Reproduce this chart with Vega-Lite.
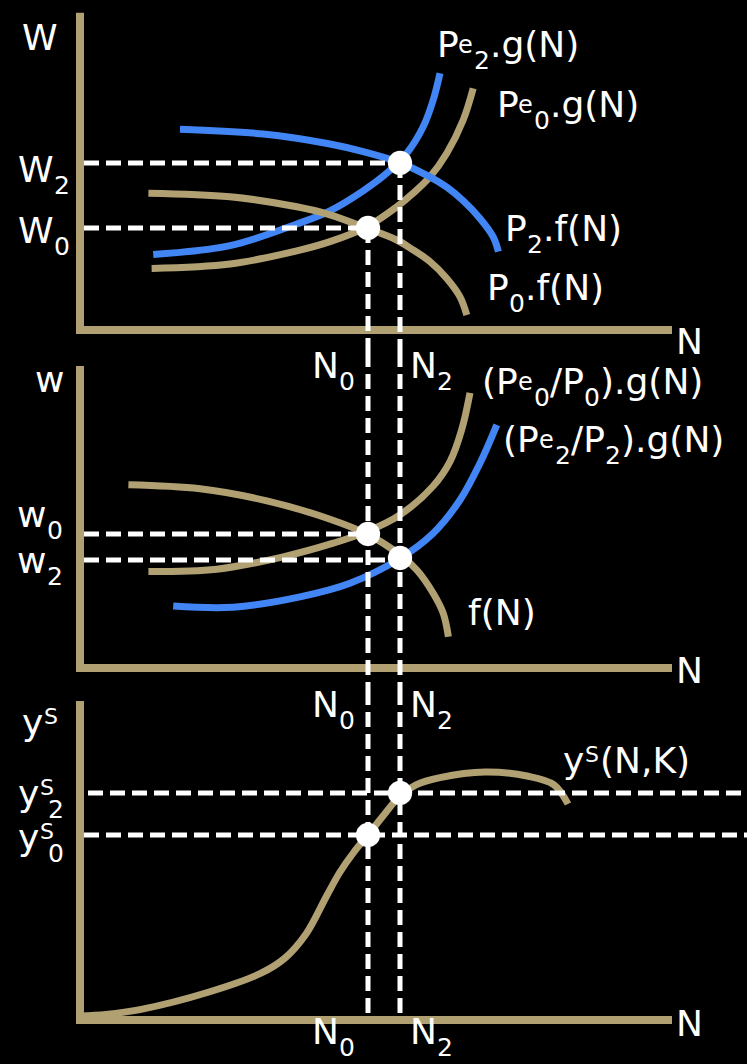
{
  "$schema": "https://vega.github.io/schema/vega-lite/v6.json",
  "background": "black",
  "padding": 0,
  "spacing": 0,
  "bounds": "flush",
  "config": {"view": {"stroke": null}},
  "datasets": {
    "axes": [
      {"panel": 1, "N": 0, "V": 0, "N2": 0, "V2": 7.83},
      {"panel": 1, "N": 0, "V": 0, "N2": 14.7, "V2": 0},
      {"panel": 2, "N": 0, "V": 0, "N2": 0, "V2": 7.45},
      {"panel": 2, "N": 0, "V": 0, "N2": 14.7, "V2": 0},
      {"panel": 3, "N": 0, "V": 0, "N2": 0, "V2": 7.875},
      {"panel": 3, "N": 0, "V": 0, "N2": 14.7, "V2": 0}
    ],
    "guides": [
      {"panel": 1, "N": 0.1, "V": 4.175, "N2": 8, "V2": 4.175},
      {"panel": 1, "N": 0.1, "V": 2.55, "N2": 7.2, "V2": 2.55},
      {"panel": 1, "N": 8, "V": 4.175, "N2": 8, "V2": -0.55},
      {"panel": 1, "N": 7.2, "V": 2.55, "N2": 7.2, "V2": -0.55},
      {"panel": 2, "N": 0.1, "V": 3.35, "N2": 7.2, "V2": 3.35},
      {"panel": 2, "N": 0.1, "V": 2.7, "N2": 8, "V2": 2.7},
      {"panel": 2, "N": 7.2, "V": 7.9, "N2": 7.2, "V2": -0.55},
      {"panel": 2, "N": 8, "V": 7.9, "N2": 8, "V2": -0.55},
      {"panel": 3, "N": 0.2, "V": 5.675, "N2": 16.675, "V2": 5.675},
      {"panel": 3, "N": 0.1, "V": 4.625, "N2": 16.675, "V2": 4.625},
      {"panel": 3, "N": 7.2, "V": 8.25, "N2": 7.2, "V2": 0},
      {"panel": 3, "N": 8, "V": 8.25, "N2": 8, "V2": 0}
    ],
    "points": [
      {"panel": 1, "N": 8, "V": 4.175},
      {"panel": 1, "N": 7.2, "V": 2.55},
      {"panel": 2, "N": 7.2, "V": 3.35},
      {"panel": 2, "N": 8, "V": 2.75},
      {"panel": 3, "N": 7.2, "V": 4.625},
      {"panel": 3, "N": 8, "V": 5.675}
    ],
    "curves": [
      {"panel": 1, "curve": "Pe2g", "state": "new", "N": 1.83, "V": 1.89},
      {"panel": 1, "curve": "Pe2g", "state": "new", "N": 3.75, "V": 2.11},
      {"panel": 1, "curve": "Pe2g", "state": "new", "N": 5.42, "V": 2.65},
      {"panel": 1, "curve": "Pe2g", "state": "new", "N": 6.25, "V": 2.98},
      {"panel": 1, "curve": "Pe2g", "state": "new", "N": 7.08, "V": 3.48},
      {"panel": 1, "curve": "Pe2g", "state": "new", "N": 7.67, "V": 3.92},
      {"panel": 1, "curve": "Pe2g", "state": "new", "N": 8.17, "V": 4.42},
      {"panel": 1, "curve": "Pe2g", "state": "new", "N": 8.58, "V": 5.08},
      {"panel": 1, "curve": "Pe2g", "state": "new", "N": 8.83, "V": 5.75},
      {"panel": 1, "curve": "Pe2g", "state": "new", "N": 9.0, "V": 6.42},
      {"panel": 1, "curve": "Pe0g", "state": "initial", "N": 1.79, "V": 1.54},
      {"panel": 1, "curve": "Pe0g", "state": "initial", "N": 3.75, "V": 1.65},
      {"panel": 1, "curve": "Pe0g", "state": "initial", "N": 5.42, "V": 1.98},
      {"panel": 1, "curve": "Pe0g", "state": "initial", "N": 6.25, "V": 2.21},
      {"panel": 1, "curve": "Pe0g", "state": "initial", "N": 7.17, "V": 2.58},
      {"panel": 1, "curve": "Pe0g", "state": "initial", "N": 7.92, "V": 3.08},
      {"panel": 1, "curve": "Pe0g", "state": "initial", "N": 8.33, "V": 3.42},
      {"panel": 1, "curve": "Pe0g", "state": "initial", "N": 8.75, "V": 3.83},
      {"panel": 1, "curve": "Pe0g", "state": "initial", "N": 9.17, "V": 4.42},
      {"panel": 1, "curve": "Pe0g", "state": "initial", "N": 9.58, "V": 5.25},
      {"panel": 1, "curve": "Pe0g", "state": "initial", "N": 9.83, "V": 6.04},
      {"panel": 1, "curve": "P2f", "state": "new", "N": 2.5, "V": 5.02},
      {"panel": 1, "curve": "P2f", "state": "new", "N": 4.58, "V": 4.9},
      {"panel": 1, "curve": "P2f", "state": "new", "N": 6.25, "V": 4.65},
      {"panel": 1, "curve": "P2f", "state": "new", "N": 7.08, "V": 4.46},
      {"panel": 1, "curve": "P2f", "state": "new", "N": 7.92, "V": 4.21},
      {"panel": 1, "curve": "P2f", "state": "new", "N": 8.75, "V": 3.83},
      {"panel": 1, "curve": "P2f", "state": "new", "N": 9.17, "V": 3.57},
      {"panel": 1, "curve": "P2f", "state": "new", "N": 9.58, "V": 3.23},
      {"panel": 1, "curve": "P2f", "state": "new", "N": 10.0, "V": 2.79},
      {"panel": 1, "curve": "P2f", "state": "new", "N": 10.33, "V": 2.33},
      {"panel": 1, "curve": "P2f", "state": "new", "N": 10.46, "V": 1.96},
      {"panel": 1, "curve": "P0f", "state": "initial", "N": 1.71, "V": 3.42},
      {"panel": 1, "curve": "P0f", "state": "initial", "N": 3.75, "V": 3.33},
      {"panel": 1, "curve": "P0f", "state": "initial", "N": 5.42, "V": 3.08},
      {"panel": 1, "curve": "P0f", "state": "initial", "N": 6.25, "V": 2.88},
      {"panel": 1, "curve": "P0f", "state": "initial", "N": 7.08, "V": 2.58},
      {"panel": 1, "curve": "P0f", "state": "initial", "N": 7.92, "V": 2.25},
      {"panel": 1, "curve": "P0f", "state": "initial", "N": 8.33, "V": 2.0},
      {"panel": 1, "curve": "P0f", "state": "initial", "N": 8.75, "V": 1.71},
      {"panel": 1, "curve": "P0f", "state": "initial", "N": 9.17, "V": 1.29},
      {"panel": 1, "curve": "P0f", "state": "initial", "N": 9.5, "V": 0.83},
      {"panel": 1, "curve": "P0f", "state": "initial", "N": 9.67, "V": 0.375},
      {"panel": 2, "curve": "g0", "state": "initial", "N": 1.71, "V": 2.41},
      {"panel": 2, "curve": "g0", "state": "initial", "N": 3.42, "V": 2.47},
      {"panel": 2, "curve": "g0", "state": "initial", "N": 5.08, "V": 2.78},
      {"panel": 2, "curve": "g0", "state": "initial", "N": 6.33, "V": 3.12},
      {"panel": 2, "curve": "g0", "state": "initial", "N": 7.17, "V": 3.41},
      {"panel": 2, "curve": "g0", "state": "initial", "N": 8.0, "V": 3.83},
      {"panel": 2, "curve": "g0", "state": "initial", "N": 8.83, "V": 4.55},
      {"panel": 2, "curve": "g0", "state": "initial", "N": 9.25, "V": 5.16},
      {"panel": 2, "curve": "g0", "state": "initial", "N": 9.54, "V": 5.95},
      {"panel": 2, "curve": "g0", "state": "initial", "N": 9.75, "V": 6.88},
      {"panel": 2, "curve": "g2", "state": "new", "N": 2.33, "V": 1.55},
      {"panel": 2, "curve": "g2", "state": "new", "N": 3.83, "V": 1.52},
      {"panel": 2, "curve": "g2", "state": "new", "N": 5.5, "V": 1.78},
      {"panel": 2, "curve": "g2", "state": "new", "N": 6.75, "V": 2.12},
      {"panel": 2, "curve": "g2", "state": "new", "N": 8.0, "V": 2.74},
      {"panel": 2, "curve": "g2", "state": "new", "N": 8.83, "V": 3.37},
      {"panel": 2, "curve": "g2", "state": "new", "N": 9.5, "V": 4.2},
      {"panel": 2, "curve": "g2", "state": "new", "N": 10.0, "V": 5.12},
      {"panel": 2, "curve": "g2", "state": "new", "N": 10.42, "V": 6.08},
      {"panel": 2, "curve": "f", "state": "initial", "N": 1.21, "V": 4.58},
      {"panel": 2, "curve": "f", "state": "initial", "N": 3.0, "V": 4.48},
      {"panel": 2, "curve": "f", "state": "initial", "N": 4.67, "V": 4.18},
      {"panel": 2, "curve": "f", "state": "initial", "N": 5.92, "V": 3.83},
      {"panel": 2, "curve": "f", "state": "initial", "N": 7.17, "V": 3.35},
      {"panel": 2, "curve": "f", "state": "initial", "N": 8.0, "V": 2.83},
      {"panel": 2, "curve": "f", "state": "initial", "N": 8.42, "V": 2.45},
      {"panel": 2, "curve": "f", "state": "initial", "N": 8.83, "V": 1.87},
      {"panel": 2, "curve": "f", "state": "initial", "N": 9.08, "V": 1.37},
      {"panel": 2, "curve": "f", "state": "initial", "N": 9.21, "V": 0.78},
      {"panel": 3, "curve": "yS", "state": "initial", "N": 0, "V": 0.1},
      {"panel": 3, "curve": "yS", "state": "initial", "N": 0.65, "V": 0.14},
      {"panel": 3, "curve": "yS", "state": "initial", "N": 1.5, "V": 0.26},
      {"panel": 3, "curve": "yS", "state": "initial", "N": 3.225, "V": 0.7},
      {"panel": 3, "curve": "yS", "state": "initial", "N": 4.525, "V": 1.17},
      {"panel": 3, "curve": "yS", "state": "initial", "N": 5.125, "V": 1.55},
      {"panel": 3, "curve": "yS", "state": "initial", "N": 5.65, "V": 2.15},
      {"panel": 3, "curve": "yS", "state": "initial", "N": 6.175, "V": 3.12},
      {"panel": 3, "curve": "yS", "state": "initial", "N": 6.5, "V": 3.7},
      {"panel": 3, "curve": "yS", "state": "initial", "N": 6.85, "V": 4.2},
      {"panel": 3, "curve": "yS", "state": "initial", "N": 7.2, "V": 4.625},
      {"panel": 3, "curve": "yS", "state": "initial", "N": 7.55, "V": 5.07},
      {"panel": 3, "curve": "yS", "state": "initial", "N": 8.0, "V": 5.6},
      {"panel": 3, "curve": "yS", "state": "initial", "N": 8.4, "V": 5.88},
      {"panel": 3, "curve": "yS", "state": "initial", "N": 9.0, "V": 6.06},
      {"panel": 3, "curve": "yS", "state": "initial", "N": 10.125, "V": 6.2},
      {"panel": 3, "curve": "yS", "state": "initial", "N": 11.175, "V": 6.1},
      {"panel": 3, "curve": "yS", "state": "initial", "N": 11.85, "V": 5.88},
      {"panel": 3, "curve": "yS", "state": "initial", "N": 12.2, "V": 5.4}
    ],
    "labels": [
      {"panel": 1, "label": "W", "part": "main", "text": "W", "N": -1.45, "V": 7.0},
      {"panel": 1, "label": "W2", "part": "main", "text": "W", "N": -1.55, "V": 3.7},
      {"panel": 1, "label": "W2", "part": "sub", "text": "2", "N": -0.65, "V": 3.7},
      {"panel": 1, "label": "W0", "part": "main", "text": "W", "N": -1.55, "V": 2.175},
      {"panel": 1, "label": "W0", "part": "sub", "text": "0", "N": -0.65, "V": 2.175},
      {"panel": 1, "label": "Pe2.g(N)", "part": "main", "text": "P", "N": 8.925, "V": 6.825},
      {"panel": 1, "label": "Pe2.g(N)", "part": "sup", "text": "e", "N": 9.45, "V": 6.825},
      {"panel": 1, "label": "Pe2.g(N)", "part": "sub", "text": "2", "N": 9.85, "V": 6.825},
      {"panel": 1, "label": "Pe2.g(N)", "part": "main", "text": ".g(N)", "N": 10.25, "V": 6.825},
      {"panel": 1, "label": "Pe0.g(N)", "part": "main", "text": "P", "N": 10.425, "V": 5.325},
      {"panel": 1, "label": "Pe0.g(N)", "part": "sup", "text": "e", "N": 10.95, "V": 5.325},
      {"panel": 1, "label": "Pe0.g(N)", "part": "sub", "text": "0", "N": 11.35, "V": 5.325},
      {"panel": 1, "label": "Pe0.g(N)", "part": "main", "text": ".g(N)", "N": 11.75, "V": 5.325},
      {"panel": 1, "label": "P2.f(N)", "part": "main", "text": "P", "N": 10.625, "V": 2.225},
      {"panel": 1, "label": "P2.f(N)", "part": "sub", "text": "2", "N": 11.175, "V": 2.225},
      {"panel": 1, "label": "P2.f(N)", "part": "main", "text": ".f(N)", "N": 11.575, "V": 2.225},
      {"panel": 1, "label": "P0.f(N)", "part": "main", "text": "P", "N": 10.175, "V": 0.75},
      {"panel": 1, "label": "P0.f(N)", "part": "sub", "text": "0", "N": 10.725, "V": 0.75},
      {"panel": 1, "label": "P0.f(N)", "part": "main", "text": ".f(N)", "N": 11.125, "V": 0.75},
      {"panel": 1, "label": "N", "part": "main", "text": "N", "N": 14.9, "V": -0.6},
      {"panel": 1, "label": "N0", "part": "main", "text": "N", "N": 5.8, "V": -1.2},
      {"panel": 1, "label": "N0", "part": "sub", "text": "0", "N": 6.475, "V": -1.2},
      {"panel": 1, "label": "N2", "part": "main", "text": "N", "N": 8.25, "V": -1.2},
      {"panel": 1, "label": "N2", "part": "sub", "text": "2", "N": 8.925, "V": -1.2},
      {"panel": 2, "label": "w", "part": "main", "text": "w", "N": -1.125, "V": 6.9},
      {"panel": 2, "label": "w0", "part": "main", "text": "w", "N": -1.575, "V": 3.525},
      {"panel": 2, "label": "w0", "part": "sub", "text": "0", "N": -0.825, "V": 3.525},
      {"panel": 2, "label": "w2", "part": "main", "text": "w", "N": -1.575, "V": 2.375},
      {"panel": 2, "label": "w2", "part": "sub", "text": "2", "N": -0.825, "V": 2.375},
      {"panel": 2, "label": "(Pe0/P0).g(N)", "part": "main", "text": "(P", "N": 10.05, "V": 6.85},
      {"panel": 2, "label": "(Pe0/P0).g(N)", "part": "sup", "text": "e", "N": 10.95, "V": 6.85},
      {"panel": 2, "label": "(Pe0/P0).g(N)", "part": "sub", "text": "0", "N": 11.35, "V": 6.85},
      {"panel": 2, "label": "(Pe0/P0).g(N)", "part": "main", "text": "/P", "N": 11.75, "V": 6.85},
      {"panel": 2, "label": "(Pe0/P0).g(N)", "part": "sub", "text": "0", "N": 12.6, "V": 6.85},
      {"panel": 2, "label": "(Pe0/P0).g(N)", "part": "main", "text": ").g(N)", "N": 13.0, "V": 6.85},
      {"panel": 2, "label": "(Pe2/P2).g(N)", "part": "main", "text": "(P", "N": 10.575, "V": 5.4},
      {"panel": 2, "label": "(Pe2/P2).g(N)", "part": "sup", "text": "e", "N": 11.475, "V": 5.4},
      {"panel": 2, "label": "(Pe2/P2).g(N)", "part": "sub", "text": "2", "N": 11.875, "V": 5.4},
      {"panel": 2, "label": "(Pe2/P2).g(N)", "part": "main", "text": "/P", "N": 12.275, "V": 5.4},
      {"panel": 2, "label": "(Pe2/P2).g(N)", "part": "sub", "text": "2", "N": 13.125, "V": 5.4},
      {"panel": 2, "label": "(Pe2/P2).g(N)", "part": "main", "text": ").g(N)", "N": 13.525, "V": 5.4},
      {"panel": 2, "label": "f(N)", "part": "main", "text": "f(N)", "N": 9.7, "V": 1.075},
      {"panel": 2, "label": "N", "part": "main", "text": "N", "N": 14.9, "V": -0.375},
      {"panel": 2, "label": "N0", "part": "main", "text": "N", "N": 5.8, "V": -1.225},
      {"panel": 2, "label": "N0", "part": "sub", "text": "0", "N": 6.475, "V": -1.225},
      {"panel": 2, "label": "N2", "part": "main", "text": "N", "N": 8.25, "V": -1.225},
      {"panel": 2, "label": "N2", "part": "sub", "text": "2", "N": 8.925, "V": -1.225},
      {"panel": 3, "label": "yS", "part": "main", "text": "y", "N": -1.45, "V": 7.125},
      {"panel": 3, "label": "yS", "part": "sup", "text": "S", "N": -0.9, "V": 7.125},
      {"panel": 3, "label": "yS2", "part": "main", "text": "y", "N": -1.55, "V": 5.35},
      {"panel": 3, "label": "yS2", "part": "sup", "text": "S", "N": -1.0, "V": 5.35},
      {"panel": 3, "label": "yS2", "part": "sub", "text": "2", "N": -0.8, "V": 5.35},
      {"panel": 3, "label": "yS0", "part": "main", "text": "y", "N": -1.55, "V": 4.25},
      {"panel": 3, "label": "yS0", "part": "sup", "text": "S", "N": -1.0, "V": 4.25},
      {"panel": 3, "label": "yS0", "part": "sub", "text": "0", "N": -0.8, "V": 4.25},
      {"panel": 3, "label": "yS(N,K)", "part": "main", "text": "y", "N": 12.075, "V": 6.175},
      {"panel": 3, "label": "yS(N,K)", "part": "sup", "text": "S", "N": 12.625, "V": 6.175},
      {"panel": 3, "label": "yS(N,K)", "part": "main", "text": "(N,K)", "N": 13.0, "V": 6.175},
      {"panel": 3, "label": "N", "part": "main", "text": "N", "N": 14.9, "V": -0.4},
      {"panel": 3, "label": "N0", "part": "main", "text": "N", "N": 5.8, "V": -0.6},
      {"panel": 3, "label": "N0", "part": "sub", "text": "0", "N": 6.475, "V": -0.6},
      {"panel": 3, "label": "N2", "part": "main", "text": "N", "N": 8.25, "V": -0.6},
      {"panel": 3, "label": "N2", "part": "sub", "text": "2", "N": 8.925, "V": -0.6}
    ]
  },
  "vconcat": [
    {
      "width": 747, "height": 352,
      "encoding": {
        "x": {"field": "N", "type": "quantitative", "scale": {"domain": [-2, 16.675], "nice": false, "zero": false}, "axis": null},
        "y": {"field": "V", "type": "quantitative", "scale": {"domain": [-0.55, 8.25], "nice": false, "zero": false}, "axis": null}
      },
      "layer": [
        {"data": {"name": "axes"}, "transform": [{"filter": "datum.panel == 1"}], "mark": {"type": "rule", "color": "#B0A072", "strokeWidth": 8, "strokeCap": "square"}, "encoding": {"x2": {"field": "N2"}, "y2": {"field": "V2"}}},
        {"data": {"name": "curves"}, "transform": [{"filter": "datum.panel == 1"}], "mark": {"type": "line", "strokeWidth": 7, "interpolate": "catmull-rom"}, "encoding": {"detail": {"field": "curve"}, "color": {"field": "state", "type": "nominal", "scale": {"domain": ["initial", "new"], "range": ["#B0A072", "#4285F4"]}, "legend": null}}},
        {"data": {"name": "guides"}, "transform": [{"filter": "datum.panel == 1"}], "mark": {"type": "rule", "color": "white", "strokeWidth": 5, "strokeDash": [15, 7]}, "encoding": {"x2": {"field": "N2"}, "y2": {"field": "V2"}}},
        {"data": {"name": "points"}, "transform": [{"filter": "datum.panel == 1"}], "mark": {"type": "point", "filled": true, "color": "white", "opacity": 1, "size": 590}},
        {"data": {"name": "labels"}, "transform": [{"filter": "datum.panel == 1 && datum.part == 'main'"}], "mark": {"type": "text", "align": "left", "baseline": "alphabetic", "font": "DejaVu Sans", "fontSize": 36, "color": "white"}, "encoding": {"text": {"field": "text"}}},
        {"data": {"name": "labels"}, "transform": [{"filter": "datum.panel == 1 && datum.part == 'sub'"}], "mark": {"type": "text", "align": "left", "baseline": "alphabetic", "font": "DejaVu Sans", "fontSize": 25, "dy": 12, "color": "white"}, "encoding": {"text": {"field": "text"}}},
        {"data": {"name": "labels"}, "transform": [{"filter": "datum.panel == 1 && datum.part == 'sup'"}], "mark": {"type": "text", "align": "left", "baseline": "alphabetic", "font": "DejaVu Sans", "fontSize": 24, "dy": -4, "color": "white"}, "encoding": {"text": {"field": "text"}}}
      ]
    },
    {
      "width": 747, "height": 338,
      "encoding": {
        "x": {"field": "N", "type": "quantitative", "scale": {"domain": [-2, 16.675], "nice": false, "zero": false}, "axis": null},
        "y": {"field": "V", "type": "quantitative", "scale": {"domain": [-0.55, 7.9], "nice": false, "zero": false}, "axis": null}
      },
      "layer": [
        {"data": {"name": "axes"}, "transform": [{"filter": "datum.panel == 2"}], "mark": {"type": "rule", "color": "#B0A072", "strokeWidth": 8, "strokeCap": "square"}, "encoding": {"x2": {"field": "N2"}, "y2": {"field": "V2"}}},
        {"data": {"name": "curves"}, "transform": [{"filter": "datum.panel == 2"}], "mark": {"type": "line", "strokeWidth": 7, "interpolate": "catmull-rom"}, "encoding": {"detail": {"field": "curve"}, "color": {"field": "state", "type": "nominal", "scale": {"domain": ["initial", "new"], "range": ["#B0A072", "#4285F4"]}, "legend": null}}},
        {"data": {"name": "guides"}, "transform": [{"filter": "datum.panel == 2"}], "mark": {"type": "rule", "color": "white", "strokeWidth": 5, "strokeDash": [15, 7]}, "encoding": {"x2": {"field": "N2"}, "y2": {"field": "V2"}}},
        {"data": {"name": "points"}, "transform": [{"filter": "datum.panel == 2"}], "mark": {"type": "point", "filled": true, "color": "white", "opacity": 1, "size": 590}},
        {"data": {"name": "labels"}, "transform": [{"filter": "datum.panel == 2 && datum.part == 'main'"}], "mark": {"type": "text", "align": "left", "baseline": "alphabetic", "font": "DejaVu Sans", "fontSize": 36, "color": "white"}, "encoding": {"text": {"field": "text"}}},
        {"data": {"name": "labels"}, "transform": [{"filter": "datum.panel == 2 && datum.part == 'sub'"}], "mark": {"type": "text", "align": "left", "baseline": "alphabetic", "font": "DejaVu Sans", "fontSize": 25, "dy": 12, "color": "white"}, "encoding": {"text": {"field": "text"}}},
        {"data": {"name": "labels"}, "transform": [{"filter": "datum.panel == 2 && datum.part == 'sup'"}], "mark": {"type": "text", "align": "left", "baseline": "alphabetic", "font": "DejaVu Sans", "fontSize": 24, "dy": -4, "color": "white"}, "encoding": {"text": {"field": "text"}}}
      ]
    },
    {
      "width": 747, "height": 374,
      "encoding": {
        "x": {"field": "N", "type": "quantitative", "scale": {"domain": [-2, 16.675], "nice": false, "zero": false}, "axis": null},
        "y": {"field": "V", "type": "quantitative", "scale": {"domain": [-1.1, 8.25], "nice": false, "zero": false}, "axis": null}
      },
      "layer": [
        {"data": {"name": "axes"}, "transform": [{"filter": "datum.panel == 3"}], "mark": {"type": "rule", "color": "#B0A072", "strokeWidth": 8, "strokeCap": "square"}, "encoding": {"x2": {"field": "N2"}, "y2": {"field": "V2"}}},
        {"data": {"name": "curves"}, "transform": [{"filter": "datum.panel == 3"}], "mark": {"type": "line", "strokeWidth": 7, "interpolate": "catmull-rom"}, "encoding": {"detail": {"field": "curve"}, "color": {"field": "state", "type": "nominal", "scale": {"domain": ["initial", "new"], "range": ["#B0A072", "#4285F4"]}, "legend": null}}},
        {"data": {"name": "guides"}, "transform": [{"filter": "datum.panel == 3"}], "mark": {"type": "rule", "color": "white", "strokeWidth": 5, "strokeDash": [15, 7]}, "encoding": {"x2": {"field": "N2"}, "y2": {"field": "V2"}}},
        {"data": {"name": "points"}, "transform": [{"filter": "datum.panel == 3"}], "mark": {"type": "point", "filled": true, "color": "white", "opacity": 1, "size": 590}},
        {"data": {"name": "labels"}, "transform": [{"filter": "datum.panel == 3 && datum.part == 'main'"}], "mark": {"type": "text", "align": "left", "baseline": "alphabetic", "font": "DejaVu Sans", "fontSize": 36, "color": "white"}, "encoding": {"text": {"field": "text"}}},
        {"data": {"name": "labels"}, "transform": [{"filter": "datum.panel == 3 && datum.part == 'sub'"}], "mark": {"type": "text", "align": "left", "baseline": "alphabetic", "font": "DejaVu Sans", "fontSize": 25, "dy": 12, "color": "white"}, "encoding": {"text": {"field": "text"}}},
        {"data": {"name": "labels"}, "transform": [{"filter": "datum.panel == 3 && datum.part == 'sup'"}], "mark": {"type": "text", "align": "left", "baseline": "alphabetic", "font": "DejaVu Sans", "fontSize": 22, "dy": -11, "color": "white"}, "encoding": {"text": {"field": "text"}}}
      ]
    }
  ]
}
